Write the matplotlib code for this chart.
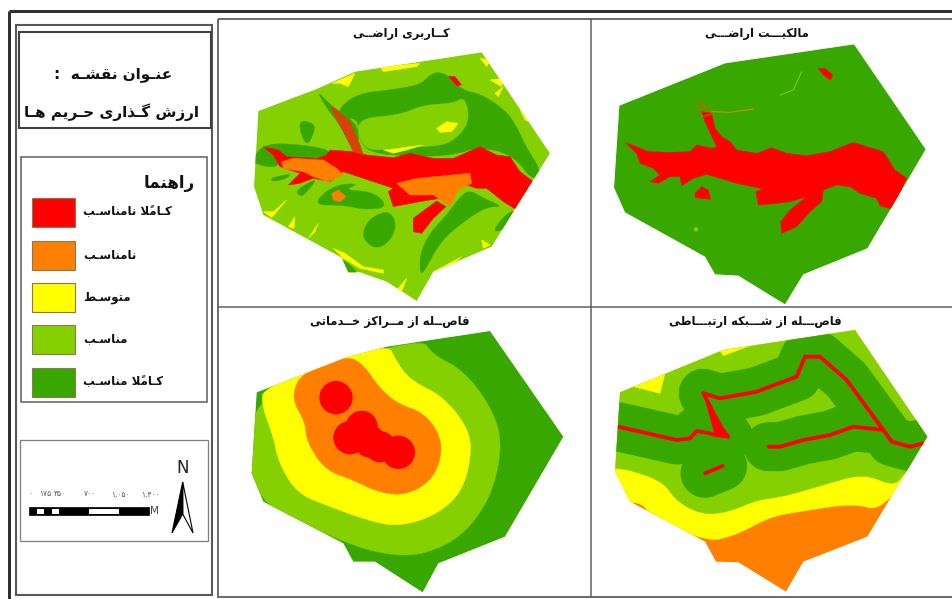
import matplotlib
matplotlib.use("Agg")
import matplotlib.pyplot as plt
from matplotlib.patches import Polygon, Rectangle, Circle

RED, ORANGE, YELLOW, LIGHT, DARK = "#FF0000", "#FF8000", "#FFFF00", "#84D000", "#38A800"

# ---------- text ----------
map_title = ["عنـوان نقشـه  :", "ارزش گـذاری حـریم هـا"]
legend_title = "راهنما"
legend_labels = ["کـاملاً نامناسـب", "نامناسـب", "متوسـط", "مناسـب", "کـاملاً مناسـب"]
legend_colors = [RED, ORANGE, YELLOW, LIGHT, DARK]
panel_titles = ["کــاربری اراضــی", "مالکیـــت اراضـــی", "فاصــله از مــراکز خــدماتی", "فاصـــله از شـــبکه ارتبـــاطی"]
scale_labels = ["۰", "۱۷۵", "۳۵۰", "۷۰۰", "۱,۰۵۰", "۱,۴۰۰"]
scale_values = [0, 175, 350, 700, 1050, 1400]

# ---------- map data, in units of 1/3 px inside each panel ----------
OFF_TL, OFF_TR, OFF_BL, OFF_BR = (220, 15), (590, 15), (220, 305), (590, 305)
bound_tl = [(115,288),(290,222),(405,170),(785,112),(990,415),(880,590),(815,695),(640,770),(590,858),(500,800),(420,772),(385,772),(365,728),(130,600),(102,515)]
bound_tr = [(88,272),(405,145),(792,88),(1007,403),(900,585),(832,700),(640,778),(585,868),(445,782),(375,778),(345,725),(105,592),(72,518)]
bound_bl = [(110,262),(385,155),(500,125),(810,78),(1030,395),(855,695),(655,775),(608,862),(465,770),(400,770),(370,715),(130,590),(95,505)]
bound_br = [(90,262),(400,135),(795,75),(1012,395),(832,695),(640,770),(588,860),(445,772),(378,770),(345,710),(120,590),(75,500)]

# land use
lu_dark = [
 [(355,305),(365,270),(420,235),(510,225),(600,210),(630,180),(655,170),(690,185),(725,225),(790,240),(860,290),(890,335),(920,400),(965,470),(940,500),(880,420),(780,395),(700,420),(600,425),(450,415),(415,370),(415,310),(360,310)],
 [(240,315),(280,325),(285,345),(262,395),(240,350)],
 [(100,430),(125,395),(170,385),(250,390),(330,405),(320,425),(260,430),(190,430),(165,460),(100,445)],
 [(290,225),(330,270),(390,310),(415,340),(415,390),(390,390),(360,330),(320,280)],
 [(600,770),(600,720),(625,660),(680,600),(720,545),(750,525),(790,550),(850,575),(800,575),(730,620),(660,680),(610,775)],
 [(225,530),(270,500),(290,495),(260,530),(245,545)],
 [(275,570),(340,510),(420,505),(370,525),(460,530),(505,575),(440,585),(370,570)],
 [(425,655),(450,610),(505,585),(530,625),(515,670),(480,700),(445,690)],
 [(820,645),(860,595),(890,585),(860,635),(835,650)],
 [(150,490),(215,475),(200,490),(160,500)],
 [(360,725),(420,775),(380,775)],
]
lu_block = [(415,310),(540,300),(610,270),(700,265),(735,245),(750,320),(700,380),(640,395),(540,395),(450,410),(415,370)]
lu_yellow = [
 [(340,700),(375,715),(430,755),(490,765),(490,775),(420,760),(370,730)],
 [(130,590),(160,590),(200,555),(155,608)],
 [(335,205),(405,175),(385,215),(360,205)],
 [(480,155),(600,145),(590,155),(490,170)],
 [(650,340),(680,320),(715,325),(695,350),(660,352)],
 [(490,405),(610,390),(560,405),(520,415)],
 [(640,770),(725,725),(690,755)],
 [(780,130),(812,135),(800,155)],
 [(810,195),(850,190),(845,215)],
 [(825,235),(850,215),(835,245)],
 [(900,285),(925,320),(915,315)],
 [(265,670),(295,625),(285,650)],
 [(205,635),(225,605),(222,640)],
 [(530,825),(560,790),(545,830)],
 [(785,675),(810,690),(790,700)],
]
lu_red = [
 [(130,395),(175,405),(200,425),(290,430),(320,420),(330,405),(400,410),(440,420),(520,428),(570,415),(640,430),(700,430),(780,395),(830,420),(870,425),(900,470),(940,500),(890,585),(850,560),(800,520),(770,520),(740,510),(700,530),(660,550),(600,560),(520,575),(505,530),(520,520),(430,490),(370,470),(330,500),(280,490),(240,505),(205,510),(240,475),(180,455),(160,420)],
 [(580,610),(650,558),(678,575),(640,610),(605,655),(580,650)],
 [(685,183),(705,185),(725,210),(710,212)],
]
lu_orange = [
 [(185,440),(220,430),(310,435),(350,460),(370,480),(325,500),(280,485),(250,470),(190,460)],
 [(530,505),(590,490),(750,475),(755,505),(715,525),(690,575),(670,560),(640,540),(570,540)],
 [(335,535),(355,525),(378,545),(360,560),(340,555)],
]
lu_brown = [(330,275),(345,280),(390,320),(420,390),(430,420),(400,410),(370,350)]

# ownership
own_red = [
 [(105,382),(140,395),(175,410),(240,412),(300,410),(320,390),(370,400),(380,395),(345,320),(335,290),(365,295),(375,340),(395,365),(420,380),(440,405),(500,415),(545,398),(590,415),(650,422),(720,410),(790,382),(830,395),(880,410),(915,465),(950,490),(905,582),(870,572),(860,550),(810,535),(780,515),(740,510),(700,525),(695,560),(660,590),(620,635),(575,655),(572,620),(600,585),(650,545),(600,560),(560,565),(505,570),(497,530),(520,522),(440,505),(350,478),(310,490),(275,512),(270,485),(240,485),(205,505),(180,500),(210,480),(190,460),(150,445),(140,415)],
 [(315,535),(335,515),(355,525),(362,553),(335,550),(315,548)],
 [(685,160),(705,160),(728,180),(722,195),(700,180)],
]
own_road = [(320,258),(370,295),(340,305),(320,285),(350,275)]
own_stream = [(365,290),(420,292),(490,282)]
own_arc = [(570,240),(610,225),(635,170)]

# distance to services
svc_light = [(100,250),(600,95),(640,150),(720,190),(790,270),(840,370),(840,470),(805,590),(725,695),(610,750),(500,750),(370,712),(150,605),(120,565),(85,510)]
svc_yellow = [(130,245),(500,110),(530,170),(570,225),(670,275),(745,370),(755,450),(725,565),(640,635),(530,665),(440,645),(330,605),(230,565),(175,470),(160,395),(125,300)]
svc_orange = [(220,260),(245,205),(385,150),(435,185),(475,245),(530,295),(615,325),(665,400),(660,475),(625,535),(550,572),(470,560),(400,525),(315,495),(260,410),(255,350),(225,300)]
svc_cx = [348,425,390,450,480,535]
svc_cy = [278,365,398,410,425,442]
svc_r = [50,48,50,48,47,50]

# distance to road network
net_yellow = [(50,50),(1030,50),(1030,400),(880,620),(790,595),(640,618),(540,635),(440,690),(345,712),(175,622),(160,600),(125,590),(50,590)]
net_light = [(50,490),(75,490),(120,495),(220,530),(260,590),(340,630),(420,620),(500,585),(580,575),(700,540),(820,505),(915,545),(945,500),(1030,450),(1030,50),(50,50)]
net_patches = [[(130,245),(225,205),(210,265),(170,255)], [(385,130),(500,115),(400,152)]]
road_top = [(340,265),(390,280),(500,260),(620,215),(645,155),(690,155),(770,225),(880,375)]
road_low = [(535,425),(570,425),(640,405),(720,390),(790,365),(880,375),(905,410),(960,425),(1000,415)]
road_left = [(60,360),(150,380),(260,405),(300,400),(320,378),(360,385),(375,390),(415,395),(395,370),(340,265)]
road_short = [(345,505),(398,483)]
road_wedge = [(340,265),(415,395),(375,390)]

# ---------- Persian shaping (matplotlib has none) ----------
def _f(i, fin, ini=None, med=None):
    return tuple(chr(c) if c else None for c in (i, fin, ini, med))
FORMS = {'ا':_f(0xFE8D,0xFE8E),'آ':_f(0xFE81,0xFE82),'ب':_f(0xFE8F,0xFE90,0xFE91,0xFE92),'ت':_f(0xFE95,0xFE96,0xFE97,0xFE98),
 'خ':_f(0xFEA5,0xFEA6,0xFEA7,0xFEA8),'ح':_f(0xFEA1,0xFEA2,0xFEA3,0xFEA4),'د':_f(0xFEA9,0xFEAA),'ذ':_f(0xFEAB,0xFEAC),'ر':_f(0xFEAD,0xFEAE),
 'ز':_f(0xFEAF,0xFEB0),'س':_f(0xFEB1,0xFEB2,0xFEB3,0xFEB4),'ش':_f(0xFEB5,0xFEB6,0xFEB7,0xFEB8),'ض':_f(0xFEBD,0xFEBE,0xFEBF,0xFEC0),
 'ط':_f(0xFEC1,0xFEC2,0xFEC3,0xFEC4),'ع':_f(0xFEC9,0xFECA,0xFECB,0xFECC),'ف':_f(0xFED1,0xFED2,0xFED3,0xFED4),'ق':_f(0xFED5,0xFED6,0xFED7,0xFED8),
 'ک':_f(0xFB8E,0xFB8F,0xFB90,0xFB91),'گ':_f(0xFB92,0xFB93,0xFB94,0xFB95),'ل':_f(0xFEDD,0xFEDE,0xFEDF,0xFEE0),'م':_f(0xFEE1,0xFEE2,0xFEE3,0xFEE4),
 'ن':_f(0xFEE5,0xFEE6,0xFEE7,0xFEE8),'و':_f(0xFEED,0xFEEE),'ه':_f(0xFEE9,0xFEEA,0xFEEB,0xFEEC),'ی':_f(0xFBFC,0xFBFD,0xFBFE,0xFBFF),
 '\uE000':_f(0xFEFB,0xFEFC),'ـ':_f(0x640,0x640,0x640,0x640)}
def shape(s):
    s = s.replace('لا', '\uE000')
    cl = []
    for ch in s:
        if ch == '\u064B' and cl:
            cl[-1][1] += ch
        else:
            cl.append([ch, ''])
    out = []
    for i, (c, mark) in enumerate(cl):
        fm = FORMS.get(c)
        if not fm:
            out.append(c + mark)
            continue
        prev = FORMS.get(cl[i-1][0]) if i else None
        nxt = FORMS.get(cl[i+1][0]) if i + 1 < len(cl) else None
        jp = bool(prev and prev[2])
        jn = bool(nxt and fm[2])
        g = fm[3] if jp and jn else fm[1] if jp else fm[2] if jn else fm[0]
        out.append(g + mark)
    return ''.join(reversed(out))

# ---------- figure ----------
fig = plt.figure(figsize=(9.52, 5.99), dpi=100)
ax = fig.add_axes([0, 0, 1, 1])
ax.set_xlim(0, 952); ax.set_ylim(599, 0); ax.axis("off")
PT = 0.72

def conv(pts, off):
    return [(off[0] + x / 3, off[1] + y / 3) for x, y in pts]

def round_off(pts, n=3):
    """Corner cutting, so that the hand-read outline has rounded corners."""
    for _ in range(n):
        q = []
        for i, (x0, y0) in enumerate(pts):
            x1, y1 = pts[(i + 1) % len(pts)]
            q += [(0.75 * x0 + 0.25 * x1, 0.75 * y0 + 0.25 * y1), (0.25 * x0 + 0.75 * x1, 0.25 * y0 + 0.75 * y1)]
        pts = q
    return pts

def panel(off, bound):
    clip = Polygon(conv(bound, off), closed=True, transform=ax.transData, fc="none", ec="none")
    ax.add_patch(clip)
    return clip

def fill(pts, off, col, clip, z=2, smooth=False):
    pts = round_off(pts) if smooth else pts
    p = Polygon(conv(pts, off), closed=True, fc=col, ec=col, lw=0.3, zorder=z)
    ax.add_patch(p); p.set_clip_path(clip)

def path(pts, off, col, width, clip, z=3):
    q = conv(pts, off)
    l, = ax.plot([a for a, _ in q], [b for _, b in q], color=col, lw=width * PT, zorder=z,
                 solid_capstyle="round", solid_joinstyle="round")
    l.set_clip_path(clip)

# land use
c = panel(OFF_TL, bound_tl)
fill(bound_tl, OFF_TL, LIGHT, c, 1)
for s in lu_dark: fill(s, OFF_TL, DARK, c, smooth=True)
fill(lu_block, OFF_TL, LIGHT, c, 2.2, smooth=True)
for s in lu_yellow: fill(s, OFF_TL, YELLOW, c, 2.4)
for s in lu_red: fill(s, OFF_TL, RED, c, 2.6)
for s in lu_orange: fill(s, OFF_TL, ORANGE, c, 2.8)
fill(lu_brown, OFF_TL, "#D8400C", c, 2.9)

# ownership
c = panel(OFF_TR, bound_tr)
fill(bound_tr, OFF_TR, DARK, c, 1)
for s in own_red: fill(s, OFF_TR, RED, c)
path(own_road + own_road[:1], OFF_TR, "#C8600A", 1.0, c)
path(own_stream, OFF_TR, "#D89010", 1.0, c)
path(own_arc, OFF_TR, LIGHT, 1.0, c)
d = Circle((OFF_TR[0] + 318 / 3, OFF_TR[1] + 643 / 3), 2.2, fc=LIGHT, ec="none", zorder=3); ax.add_patch(d)

# services
c = panel(OFF_BL, bound_bl)
fill(bound_bl, OFF_BL, DARK, c, 1)
fill(svc_light, OFF_BL, LIGHT, c, 1.5, smooth=True)
fill(svc_yellow, OFF_BL, YELLOW, c, 1.7, smooth=True)
fill(svc_orange, OFF_BL, ORANGE, c, 1.9, smooth=True)
for cx, cy, r in zip(svc_cx, svc_cy, svc_r):
    ax.add_patch(Circle((OFF_BL[0] + cx / 3, OFF_BL[1] + cy / 3), r / 3, fc=RED, ec="none", zorder=2.5))

# network
c = panel(OFF_BR, bound_br)
fill(bound_br, OFF_BR, ORANGE, c, 1)
fill(net_yellow, OFF_BR, YELLOW, c, 1.3, smooth=True)
fill(net_light, OFF_BR, LIGHT, c, 1.5, smooth=True)
for s in net_patches: fill(s, OFF_BR, YELLOW, c, 1.6)
for rd in (road_top, road_low, road_left, road_short):
    path(rd, OFF_BR, DARK, 49, c, 1.8)
for rd in (road_top, road_low, road_left, road_short):
    path(rd, OFF_BR, RED, 3.8, c, 2.2)
fill(road_wedge, OFF_BR, RED, c, 2.2)

# frames
def box(x0, y0, x1, y1, col="#505050", lw=1.0, z=5):
    ax.add_patch(Rectangle((x0, y0), x1 - x0, y1 - y0, fc="none", ec=col, lw=lw * PT * 1.3, zorder=z, clip_on=False))

ax.plot([9, 9], [599, 11], color="#303030", lw=3 * PT, zorder=6, solid_capstyle="butt")
ax.plot([9, 952], [11, 11], color="#303030", lw=3 * PT, zorder=6, solid_capstyle="butt")
box(16, 25, 212, 595, "#585858", 1.6)
box(19, 32, 211, 128, "#404040", 1.6)
box(21, 157, 207, 402, "#606060", 1.2)
box(20, 440, 208, 541, "#808080", 1.0)
box(218, 19, 960, 597, "#606060", 1.4)
ax.plot([591, 591], [19, 597], color="#606060", lw=1.1, zorder=5)
ax.plot([218, 952], [307, 307], color="#606060", lw=1.1, zorder=5)

# legend
sw_y = [198, 241, 283, 325, 368]
for y, col, lab in zip(sw_y, legend_colors, legend_labels):
    ax.add_patch(Rectangle((32, y), 43, 29, fc=col, ec="#8A7A50", lw=0.8, zorder=4))
    ax.text(83, y + 14, shape(lab), ha="left", va="center", fontsize=8.5, fontweight="bold", color="#111111", family="DejaVu Sans", zorder=6)
ax.text(195, 183, shape(legend_title), ha="right", va="center", fontsize=12, fontweight="bold", color="#111111", family="DejaVu Sans", zorder=6)
ax.text(113, 75, shape(map_title[0]), ha="center", va="center", fontsize=11, fontweight="bold", color="#111111", family="DejaVu Sans", zorder=6)
ax.text(112, 112, shape(map_title[1]), ha="center", va="center", fontsize=11, fontweight="bold", color="#111111", family="DejaVu Sans", zorder=6)

title_pos = [(401, 34), (757, 34), (390, 322), (755, 322)]
for (x, y), t in zip(title_pos, panel_titles):
    ax.text(x, y, shape(t), ha="center", va="center", fontsize=8.3, fontweight="bold", color="#111111", family="DejaVu Sans", zorder=6)

# scale bar
def sx(v):
    return 29 + v * 120 / 1400
ax.add_patch(Rectangle((sx(0), 507), sx(1400) - sx(0), 8, fc="black", ec="black", lw=0.5, zorder=4))
for a, b in [(87.5, 175), (262.5, 350), (700, 1050)]:
    ax.add_patch(Rectangle((sx(a), 508.5), sx(b) - sx(a), 5, fc="white", ec="none", zorder=5))
for v, t in zip(scale_values, scale_labels):
    ax.text(sx(v) + 1, 494, t, ha="center", va="center", fontsize=5.5, color="#555555", zorder=6)
ax.text(150, 511, "M", ha="left", va="center", fontsize=7.5, color="#444444", zorder=6)

# north arrow
ax.text(183, 468, "N", ha="center", va="center", fontsize=12, color="#222222", zorder=6)
ax.add_patch(Polygon([(182.7, 482), (193, 533), (182.7, 514)], closed=True, fc="white", ec="black", lw=0.8, zorder=5))
ax.add_patch(Polygon([(182.7, 482), (172, 533), (182.7, 514)], closed=True, fc="black", ec="black", lw=0.8, zorder=5))

fig.savefig("out.png", dpi=100, facecolor="white")
